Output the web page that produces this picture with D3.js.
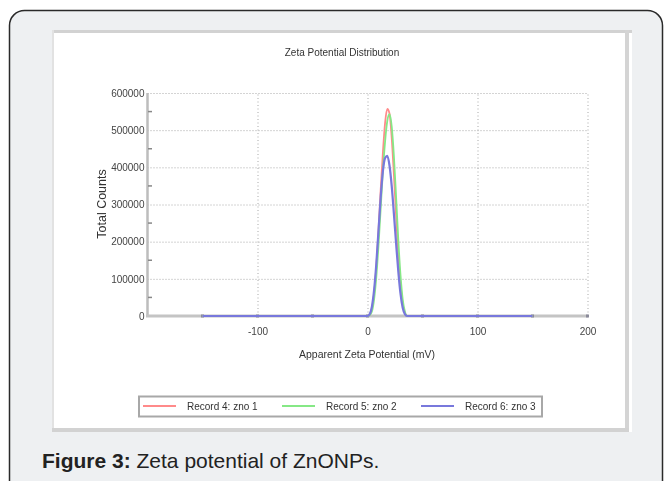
<!DOCTYPE html>
<html lang="en">
  <head>
    <meta charset="UTF-8" />
    <title>Zeta Potential Distribution</title>
    <script src="https://d3js.org/d3.v7.min.js"></script>
    <style>
      body { margin: 0; background: #fff; }
      svg { display: block; }
      text { font-family: "Liberation Sans", Arial, sans-serif; }
    </style>
  </head>
  <body>
    <div class="visHolder"></div>
    <script>
      // ----------- Data ----------- //
      var zeta = [-150, 0, 2, 4, 6, 8, 10, 12, 14, 16, 18, 20, 22, 24, 26, 28, 30, 32, 34, 36, 150];
      var record4 = [0, 0, 3000, 20000, 60000, 130000, 230000, 340000, 440000, 520000, 557000, 545000, 480000, 380000, 270000, 165000, 85000, 32000, 8000, 0, 0];
      var record5 = [0, 0, 2000, 12000, 45000, 105000, 190000, 290000, 390000, 470000, 525000, 543000, 510000, 430000, 320000, 205000, 110000, 45000, 12000, 0, 0];
      var record6 = [0, 0, 5000, 25000, 70000, 140000, 230000, 320000, 390000, 425000, 431000, 405000, 350000, 275000, 195000, 120000, 60000, 22000, 5000, 0, 0];
      var seriesNames = ['Record 4: zno 1', 'Record 5: zno 2', 'Record 6: zno 3'];
      var seriesColors = ['#ff8a8a', '#86e886', '#7878dc'];
      var xTicks = [-100, 0, 100, 200];
      var yTicks = [0, 100000, 200000, 300000, 400000, 500000, 600000];

      var width = 665;
      var height = 481;

      var svg = d3.select('.visHolder')
        .append('svg')
        .attr('width', width)
        .attr('height', height);

      // ----------- Frame ----------- //
      svg.append('rect')
        .attr('x', 9.5).attr('y', 10.5)
        .attr('width', 653).attr('height', 500)
        .attr('rx', 15)
        .style('fill', '#eef0f2')
        .style('stroke', '#2a2a2a')
        .style('stroke-width', 1.5);

      var defs = svg.append('defs');
      defs.append('filter').attr('id', 'soft')
        .attr('x', 0).attr('y', 0).attr('width', 1).attr('height', 1)
        .append('feGaussianBlur').attr('stdDeviation', 0.55);

      var panel = svg.append('g').attr('filter', 'url(#soft)');

      panel.append('rect')
        .attr('x', 52).attr('y', 30).attr('width', 580).attr('height', 402)
        .style('fill', '#fff');
      panel.append('rect').attr('x', 52).attr('y', 30).attr('width', 580).attr('height', 3).style('fill', '#d2d2d2');
      panel.append('rect').attr('x', 52).attr('y', 30).attr('width', 2).attr('height', 402).style('fill', '#e2e2e2');
      panel.append('rect').attr('x', 625).attr('y', 30).attr('width', 4).attr('height', 400).style('fill', '#d4d4d4');
      panel.append('rect').attr('x', 52).attr('y', 428).attr('width', 577).attr('height', 4).style('fill', '#d2d2d2');

      panel.append('text')
        .attr('x', 342).attr('y', 56)
        .attr('text-anchor', 'middle')
        .style('font-size', '10px')
        .style('fill', '#333')
        .text('Zeta Potential Distribution');

      // ----------- Scales ----------- //
      var xScale = d3.scaleLinear().domain([-200, 200]).range([147.5, 587.5]);
      var yScale = d3.scaleLinear().domain([0, 600000]).range([316, 93]);

      // ----------- Grid ----------- //
      panel.append('g')
        .attr('transform', 'translate(0,316)')
        .call(d3.axisBottom(xScale).tickValues(xTicks).tickSize(-223).tickFormat(''))
        .call(g => g.select('.domain').remove())
        .call(g => g.selectAll('line').style('stroke', '#a8a8a8').style('stroke-dasharray', '1,2.5'));

      panel.append('g')
        .attr('transform', 'translate(147.5,0)')
        .call(d3.axisLeft(yScale).tickValues(yTicks.slice(1)).tickSize(-440).tickFormat(''))
        .call(g => g.select('.domain').remove())
        .call(g => g.selectAll('line').style('stroke', '#a8a8a8').style('stroke-dasharray', '1,2'));

      // ----------- Axes ----------- //
      panel.append('line')
        .attr('x1', 147.5).attr('x2', 147.5).attr('y1', 93).attr('y2', 317)
        .style('stroke', '#bdbdbd').style('stroke-width', 2.5);
      panel.append('line')
        .attr('x1', 146).attr('x2', 588).attr('y1', 316).attr('y2', 316)
        .style('stroke', '#c4c4c4').style('stroke-width', 3);

      var yAxis = panel.append('g')
        .attr('transform', 'translate(147.5,0)')
        .call(d3.axisLeft(yScale).tickValues(yTicks).tickSize(0).tickPadding(3).tickFormat(d3.format('d')));
      yAxis.select('.domain').remove();
      yAxis.selectAll('text').style('font-size', '10px').style('fill', '#444').style('font-family', '"Liberation Sans", Arial, sans-serif');

      // minor ticks
      panel.append('g')
        .selectAll('line')
        .data(d3.range(50000, 600000, 100000))
        .join('line')
        .attr('x1', 148).attr('x2', 152)
        .attr('y1', d => yScale(d)).attr('y2', d => yScale(d))
        .style('stroke', '#888').style('stroke-width', 1.5);

      var xAxis = panel.append('g')
        .attr('transform', 'translate(0,316)')
        .call(d3.axisBottom(xScale).tickValues(xTicks).tickSize(0).tickPadding(12).tickFormat(d => d));
      xAxis.select('.domain').remove();
      xAxis.selectAll('text').style('font-size', '10px').style('fill', '#444').style('font-family', '"Liberation Sans", Arial, sans-serif');

      panel.append('g')
        .selectAll('rect')
        .data(d3.range(-150, 201, 50))
        .join('rect')
        .attr('x', d => xScale(d) - 1.5).attr('y', 314.5)
        .attr('width', 3).attr('height', 3)
        .style('fill', '#8a8a9a');

      panel.append('text')
        .attr('x', 367).attr('y', 358)
        .attr('text-anchor', 'middle')
        .style('font-size', '10.5px').style('fill', '#333')
        .text('Apparent Zeta Potential (mV)');

      panel.append('text')
        .attr('transform', 'translate(106,204) rotate(-90)')
        .attr('text-anchor', 'middle')
        .style('font-size', '12.5px').style('fill', '#333')
        .text('Total Counts');

      // ----------- Series ----------- //
      var line = d3.line()
        .x((d, i) => xScale(zeta[i]))
        .y(d => yScale(d))
        .curve(d3.curveMonotoneX);

      [record4, record5, record6].forEach(function(series, k) {
        panel.append('path')
          .datum(series)
          .attr('d', line)
          .style('fill', 'none')
          .style('stroke', seriesColors[k])
          .style('stroke-width', k === 2 ? 2.2 : 1.8);
      });

      // ----------- Legend ----------- //
      panel.append('rect')
        .attr('x', 139).attr('y', 396.5).attr('width', 403).attr('height', 20)
        .style('fill', '#fff').style('stroke', '#a8a8a8').style('stroke-width', 2);

      var legend = panel.selectAll('.legend')
        .data(seriesNames)
        .join('g')
        .attr('class', 'legend')
        .attr('transform', (d, i) => 'translate(' + (143 + i * 139) + ',406)');
      legend.append('line')
        .attr('x1', 0).attr('x2', 33)
        .style('stroke', (d, i) => seriesColors[i]).style('stroke-width', 2);
      legend.append('text')
        .attr('x', 44).attr('y', 3.5)
        .style('font-size', '10px').style('fill', '#333')
        .text(d => d);

      // ----------- Caption ----------- //
      var caption = svg.append('text')
        .attr('x', 42).attr('y', 468)
        .style('font-size', '21px').style('fill', '#222');
      caption.append('tspan').style('font-weight', 'bold').text('Figure 3:');
      caption.append('tspan').text(' Zeta potential of ZnONPs.');
    </script>
  </body>
</html>
